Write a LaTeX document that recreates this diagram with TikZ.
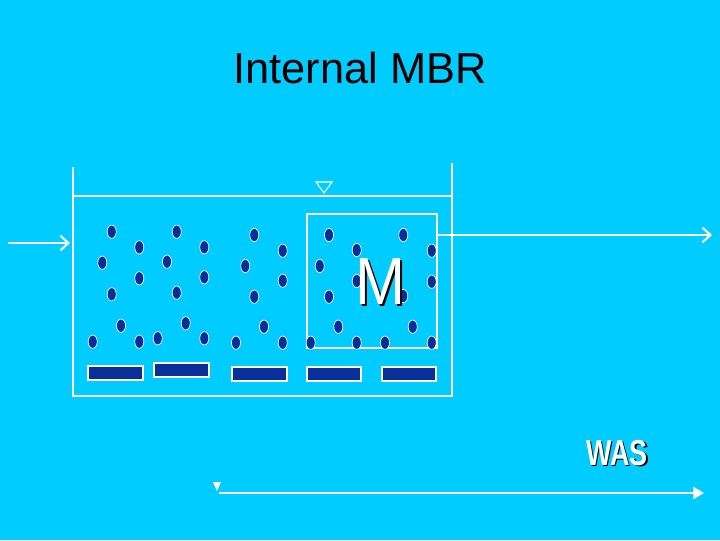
\documentclass[tikz,border=0pt]{standalone}
\usepackage{fontspec}
\setmainfont{Liberation Sans}
\usetikzlibrary{arrows.meta}
\definecolor{bg}{HTML}{00CCFF}
\definecolor{dk}{HTML}{0A2F9A}
\begin{document}
\begin{tikzpicture}[x=0.75pt,y=-0.75pt,
  wl/.style={draw=white,line width=1.6pt},
  dot/.style={fill=dk,draw=white,line width=0.5pt},
  aer/.style={fill=dk,draw=white,line width=0.8pt},
  shadowtxt/.style={text=white}]
\fill[bg] (0,0) rectangle (720,540);
\useasboundingbox (0,0) rectangle (720,540);
\node (title) at (360,68) {\fontsize{32.5}{36}\selectfont Internal MBR};
% tank
\draw[wl] (73,167) -- (73,396) -- (453,396);
\draw[wl] (452,163) -- (452,395);
\draw[wl] (73,196) -- (453,196);
\draw[draw=white,line width=0.8pt] (316,182) -- (332,182) -- (324,193) -- cycle;
\draw[wl] (307,348) -- (307,214) -- (437,214) -- (437,348) -- cycle;
\coordinate (inA) at (8,243);
\coordinate (inB) at (70,243);
\draw[wl,-{Straight Barb[length=6pt,width=11pt]}] (inA) -- (inB);
\coordinate (outA) at (437,235);
\coordinate (outB) at (712,235);
\draw[wl,-{Straight Barb[length=6pt,width=11pt]}] (outA) -- (outB);
\foreach \x/\y in {111.7/231.7,139.3/247.3,176.7/231.7,204.3/247.3,102.3/262.7,167/261.7,139.3/278.3,204.3/277.3,111.7/294.3,176.7/292.7,121/325.7,185.7/323.3,92.7/341.7,139.3/341.7,157.7/338.3,204.3/338.3,254.3/235,282.7/250.7,245.3/266,282.7/280.7,254.3/296.7,264/326.7,236/342.7,282.7/342.7,329/235,403.3/235,356.7/250,431.7/250.7,319.7/266,356.7/281,431.7/281.7,329/296.7,403.3/296,338.3/326.7,412.7/326.7,310.7/342.7,356.7/342.7,385/342.7,431.7/342.7}
  \fill[dot] (\x,\y) ellipse [x radius=3.4pt, y radius=5pt];
\foreach \a/\b/\c/\d in {88/366/143/380,154/363/209/377,232/367/287/381,307/367/361/381,382/367/436/381}
  \draw[aer] (\a,\b) rectangle (\c,\d);
\node[text=black] at (382,284) {\fontsize{50}{54}\selectfont\addfontfeature{FakeStretch=0.9}M};
\node[shadowtxt] (M) at (380,282) {\fontsize{50}{54}\selectfont\addfontfeature{FakeStretch=0.9}M};
% WAS
\node[text=black] at (618.5,454.5) {\fontsize{27}{30}\selectfont\bfseries\addfontfeature{FakeStretch=0.75}WAS};
\node[shadowtxt] (was) at (617,453) {\fontsize{27}{30}\selectfont\bfseries\addfontfeature{FakeStretch=0.75}WAS};
\fill[white] (213,482) -- (221,482) -- (217,491) -- cycle;
\coordinate (wA) at (219,493);
\coordinate (wB) at (704,493);
\draw[wl,-{Triangle[length=8pt,width=9pt]}] (wA) -- (wB);
\end{tikzpicture}
\end{document}
